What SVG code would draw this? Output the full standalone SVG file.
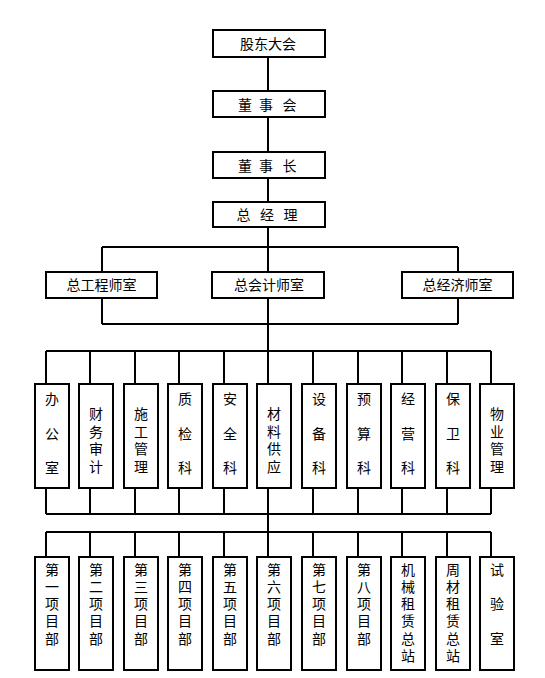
<svg xmlns="http://www.w3.org/2000/svg" width="545" height="678" viewBox="0 0 545 678">
<style>
.b{fill:#fff;stroke:#000;stroke-width:2}
.c{fill:none;stroke:#000;stroke-width:2}
text{font-family:"Noto Sans CJK SC","Liberation Sans",sans-serif;font-size:14px;fill:#000;text-anchor:middle}
text.v{writing-mode:vertical-rl;text-anchor:start}
.v3{letter-spacing:20.5px}
.v4{letter-spacing:3.5px}
.v5{letter-spacing:3.2px}
</style>
<rect width="545" height="678" fill="#fff"/>
<g id="connectors" class="c">
<path d="M268 57V91M268 117V152M268 178V202M268 227V272M268 298V384M268 488V557"/>
<path d="M102 247H458M102 247V272M458 247V272M102 298V324M458 298V324M102 324H458"/>
<path d="M46 351H491M46 351V384M90 351V384M135 351V384M179 351V384M224 351V384M313 351V384M358 351V384M402 351V384M447 351V384M491 351V384"/>
<path d="M46 514H491M46 488V514M90 488V514M135 488V514M179 488V514M224 488V514M313 488V514M358 488V514M402 488V514M447 488V514M491 488V514"/>
<path d="M46 532H491M46 532V557M90 532V557M135 532V557M179 532V557M224 532V557M313 532V557M358 532V557M402 532V557M447 532V557M491 532V557"/>
</g>
<g id="n-gudong"><rect class="b" x="213" y="30" width="112" height="27"/><text x="268" y="49">股东大会</text></g>
<g id="n-dongshihui"><rect class="b" x="213" y="91" width="112" height="26"/><text x="245 266 289.5" y="110">董事会</text></g>
<g id="n-dongshizhang"><rect class="b" x="213" y="152" width="112" height="26"/><text x="245 266 289.5" y="170.5">董事长</text></g>
<g id="n-zongjingli"><rect class="b" x="213" y="202" width="112" height="25"/><text x="243.5 267 290.5" y="220">总经理</text></g>
<g id="n-zgcs"><rect class="b" x="46" y="272" width="111" height="26"/><text x="101.5" y="290">总工程师室</text></g>
<g id="n-zkjs"><rect class="b" x="212" y="272" width="112" height="26"/><text x="269" y="290">总会计师室</text></g>
<g id="n-zjjs"><rect class="b" x="402" y="272" width="111" height="26"/><text x="457.5" y="290">总经济师室</text></g>
<g id="d1"><rect class="b" x="35" y="384" width="34" height="104"/><text class="v v3" x="52" y="392">办公室</text></g>
<g id="d2"><rect class="b" x="79" y="384" width="34" height="104"/><text class="v v4" x="96" y="407">财务审计</text></g>
<g id="d3"><rect class="b" x="124" y="384" width="34" height="104"/><text class="v v4" x="141" y="407">施工管理</text></g>
<g id="d4"><rect class="b" x="168" y="384" width="34" height="104"/><text class="v v3" x="185" y="392">质检科</text></g>
<g id="d5"><rect class="b" x="213" y="384" width="34" height="104"/><text class="v v3" x="230" y="392">安全科</text></g>
<g id="d6"><rect class="b" x="257" y="384" width="34" height="104"/><text class="v v4" x="274" y="407">材料供应</text></g>
<g id="d7"><rect class="b" x="302" y="384" width="34" height="104"/><text class="v v3" x="319" y="392">设备科</text></g>
<g id="d8"><rect class="b" x="347" y="384" width="34" height="104"/><text class="v v3" x="364" y="392">预算科</text></g>
<g id="d9"><rect class="b" x="391" y="384" width="34" height="104"/><text class="v v3" x="408" y="392">经营科</text></g>
<g id="d10"><rect class="b" x="436" y="384" width="34" height="104"/><text class="v v3" x="453" y="392">保卫科</text></g>
<g id="d11"><rect class="b" x="480" y="384" width="34" height="104"/><text class="v v4" x="497" y="407">物业管理</text></g>
<g id="p1"><rect class="b" x="35" y="557" width="34" height="113"/><text class="v v5" x="52" y="562.5">第一项目部</text></g>
<g id="p2"><rect class="b" x="79" y="557" width="34" height="113"/><text class="v v5" x="96" y="562.5">第二项目部</text></g>
<g id="p3"><rect class="b" x="124" y="557" width="34" height="113"/><text class="v v5" x="141" y="562.5">第三项目部</text></g>
<g id="p4"><rect class="b" x="168" y="557" width="34" height="113"/><text class="v v5" x="185" y="562.5">第四项目部</text></g>
<g id="p5"><rect class="b" x="213" y="557" width="34" height="113"/><text class="v v5" x="230" y="562.5">第五项目部</text></g>
<g id="p6"><rect class="b" x="257" y="557" width="34" height="113"/><text class="v v5" x="274" y="562.5">第六项目部</text></g>
<g id="p7"><rect class="b" x="302" y="557" width="34" height="113"/><text class="v v5" x="319" y="562.5">第七项目部</text></g>
<g id="p8"><rect class="b" x="347" y="557" width="34" height="113"/><text class="v v5" x="364" y="562.5">第八项目部</text></g>
<g id="p9"><rect class="b" x="391" y="557" width="34" height="113"/><text class="v v5" x="408" y="562.5">机械租赁总站</text></g>
<g id="p10"><rect class="b" x="436" y="557" width="34" height="113"/><text class="v v5" x="453" y="562.5">周材租赁总站</text></g>
<g id="p11"><rect class="b" x="480" y="557" width="34" height="113"/><text class="v v3" x="497" y="562.5">试验室</text></g>
</svg>
